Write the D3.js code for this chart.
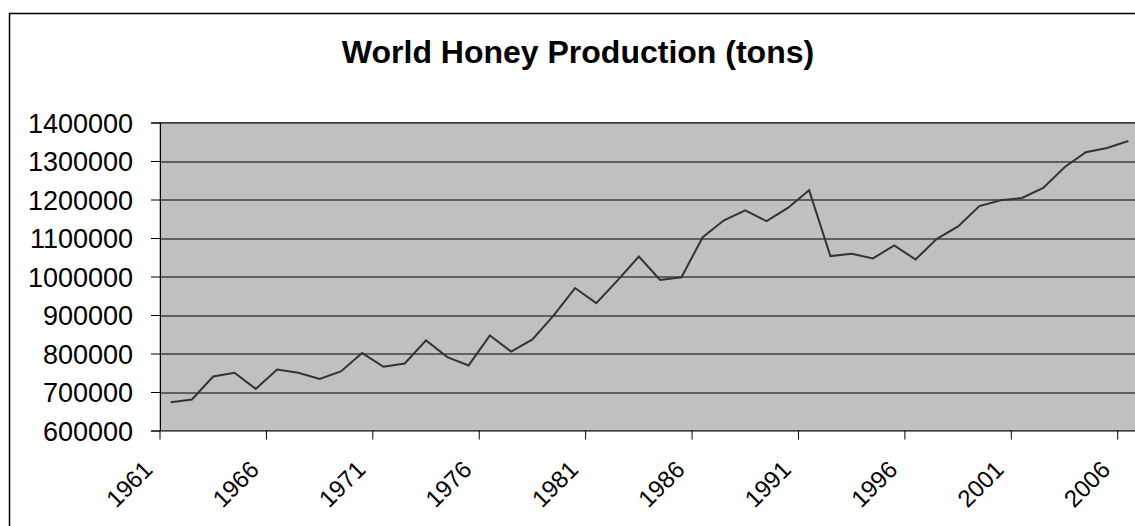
<!DOCTYPE html>
<html>
<head>
<meta charset="utf-8">
<script src="https://cdn.jsdelivr.net/npm/d3@7"></script>
<style>
  body { margin: 0; background: #fff; }
  text { font-family: "Liberation Sans", Arial, sans-serif; }
</style>
</head>
<body>
<div id="chart"></div>
<script>
// years and production (tons)
var years = d3.range(1961, 2007);
var production = [
  673500, 680600, 740300, 750000, 708000, 758500, 750000, 734000, 753300, 801000,
  765500, 774000, 834000, 790500, 769000, 847000, 805000, 836500, 899000, 970000,
  931000, 990000, 1052000, 991000, 998000, 1102000, 1146000, 1172000, 1144000, 1178000,
  1224000, 1053000, 1059000, 1047000, 1081000, 1044000, 1098000, 1130000, 1183000, 1198000,
  1204000, 1230000, 1284000, 1323000, 1334000, 1352000
];
var labelYears = [1961, 1966, 1971, 1976, 1981, 1986, 1991, 1996, 2001, 2006];
var yTicks = [600000, 700000, 800000, 900000, 1000000, 1100000, 1200000, 1300000, 1400000];

var svgWidth = 1135;
var svgHeight = 526;

var margin = { top: 122.5, left: 160 };
var width = 979;
var height = 308;

var svg = d3.select("#chart")
  .append("svg")
  .attr("width", svgWidth)
  .attr("height", svgHeight);

// chart border
svg.append("rect")
  .attr("x", 9.5)
  .attr("y", 13.5)
  .attr("width", 1140)
  .attr("height", 530)
  .attr("fill", "#fff")
  .attr("stroke", "#000")
  .attr("stroke-width", 1.5);

svg.append("text")
  .attr("x", 578)
  .attr("y", 63)
  .attr("text-anchor", "middle")
  .style("font-size", "32px")
  .style("font-weight", "bold")
  .text("World Honey Production (tons)");

var chartGroup = svg.append("g")
  .attr("transform", `translate(${margin.left}, ${margin.top})`);

var xScale = d3.scaleBand()
  .domain(years)
  .range([0, width]);

var yScale = d3.scaleLinear()
  .domain([600000, 1400000])
  .range([height, 0]);

// plot area
chartGroup.append("rect")
  .attr("width", width)
  .attr("height", height)
  .attr("fill", "#c0c0c0")
  .attr("stroke", "#808080");

// gridlines
chartGroup.append("g")
  .selectAll("line")
  .data(yTicks.slice(1))
  .enter()
  .append("line")
  .attr("x1", 0)
  .attr("x2", width)
  .attr("y1", d => Math.round(yScale(d)) + 0.5)
  .attr("y2", d => Math.round(yScale(d)) + 0.5)
  .attr("stroke", "#000");

// y axis
var leftAxis = d3.axisLeft(yScale)
  .tickValues(yTicks)
  .tickFormat(d3.format("d"))
  .tickSize(9)
  .tickPadding(18);

var yAxisG = chartGroup.append("g").call(leftAxis);
yAxisG.select(".domain").attr("stroke", "#000");
yAxisG.selectAll("text")
  .style("font-size", "27px")
  .attr("fill", "#000")
  .attr("dy", "0.36em");

// x axis, ticks on category boundaries
var bottomAxis = d3.axisBottom(xScale)
  .tickValues(labelYears)
  .tickSize(9)
  .tickSizeOuter(0);

var xAxisG = chartGroup.append("g")
  .attr("transform", `translate(0, ${height})`)
  .call(bottomAxis);
xAxisG.select(".domain").attr("stroke", "#000");
xAxisG.selectAll(".tick line")
  .attr("transform", `translate(${-xScale.bandwidth() / 2}, 0)`);
xAxisG.selectAll(".tick text")
  .style("font-size", "24px")
  .attr("fill", "#000")
  .attr("text-anchor", "end")
  .attr("y", 0)
  .attr("dy", 0)
  .attr("transform", `translate(${-xScale.bandwidth() / 2 - 6}, 40.5) rotate(-45)`);

// line
var line = d3.line()
  .x((d, i) => xScale(years[i]) + xScale.bandwidth() / 2)
  .y(d => yScale(d));

chartGroup.append("path")
  .datum(production)
  .attr("d", line)
  .attr("fill", "none")
  .attr("stroke", "#333")
  .attr("stroke-width", 2);
</script>
</body>
</html>
